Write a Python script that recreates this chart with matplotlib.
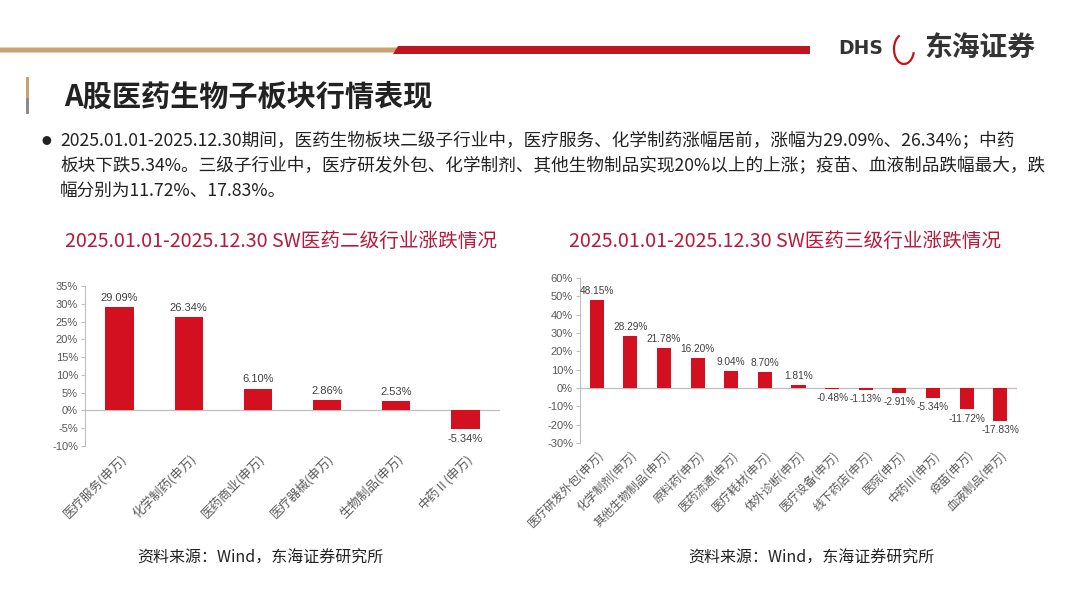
import matplotlib.pyplot as plt
from matplotlib.patches import Polygon, Rectangle, Arc

plt.rcParams['font.family'] = ['Noto Sans CJK SC', 'DejaVu Sans']

# data
lvl2_names = ['医疗服务(申万)', '化学制药(申万)', '医药商业(申万)', '医疗器械(申万)',
              '生物制品(申万)', '中药Ⅱ(申万)']
lvl2_change = [29.09, 26.34, 6.10, 2.86, 2.53, -5.34]
lvl2_ticks = [-10, -5, 0, 5, 10, 15, 20, 25, 30, 35]

lvl3_names = ['医疗研发外包(申万)', '化学制剂(申万)', '其他生物制品(申万)', '原料药(申万)',
              '医药流通(申万)', '医疗耗材(申万)', '体外诊断(申万)', '医疗设备(申万)',
              '线下药店(申万)', '医院(申万)', '中药Ⅲ(申万)', '疫苗(申万)', '血液制品(申万)']
lvl3_change = [48.15, 28.29, 21.78, 16.20, 9.04, 8.70, 1.81, -0.48, -1.13, -2.91,
               -5.34, -11.72, -17.83]
lvl3_ticks = [-30, -20, -10, 0, 10, 20, 30, 40, 50, 60]

bar_red = '#D3101F'
gray = '#595959'
W, H = 1080, 608

fig = plt.figure(figsize=(10.8, 6.08), dpi=100)
fig.patch.set_facecolor('white')


def fx(px):
    return px / W


def fy(py):
    return 1 - py / H


# header bars
fig.patches.append(Polygon([(fx(0), fy(47.5)), (fx(398), fy(47.5)), (fx(395), fy(52.5)), (fx(0), fy(52.5))],
                           closed=True, transform=fig.transFigure, color='#C9A36E', lw=0))
fig.patches.append(Polygon([(fx(398), fy(45.5)), (fx(810), fy(45.5)), (fx(810), fy(53.5)), (fx(393), fy(53.5))],
                           closed=True, transform=fig.transFigure, color='#C0141E', lw=0))
fig.text(fx(838), fy(49), 'DHS', fontsize=13.5, fontweight='bold', color='#333333',
         family=['DejaVu Sans'], va='center', ha='left')
fig.patches.append(Arc((fx(904), fy(49)), fx(20), 30 / H, theta1=100, theta2=330,
                       transform=fig.transFigure, color='#C0141E', lw=1.6))
fig.text(fx(924), fy(49), '东海证券', fontsize=20, fontweight='bold', color='#333333',
         va='center', ha='left')

# title with side marker
fig.patches.append(Rectangle((fx(26), fy(98)), fx(2.5), 21 / H, transform=fig.transFigure,
                             color='#C9A36E', lw=0))
fig.patches.append(Rectangle((fx(26), fy(114)), fx(2.5), 16 / H, transform=fig.transFigure,
                             color='#8C8C8C', lw=0))
fig.text(fx(64), fy(97), 'A股医药生物子板块行情表现', fontsize=21, fontweight='bold',
         color='#222222', va='center', ha='left')

# bullet text
lines = [
    '2025.01.01-2025.12.30期间，医药生物板块二级子行业中，医疗服务、化学制药涨幅居前，涨幅为29.09%、26.34%；中药',
    '板块下跌5.34%。三级子行业中，医疗研发外包、化学制剂、其他生物制品实现20%以上的上涨；疫苗、血液制品跌幅最大，跌',
    '幅分别为11.72%、17.83%。',
]
fig.text(fx(42), fy(141), '●', fontsize=7, color='#222222', va='center', ha='left')
for i, line in enumerate(lines):
    fig.text(fx(60), fy(141 + 25 * i), line, fontsize=12.7, color='#222222', va='center', ha='left')

# chart titles
title_red = '#B8183A'
fig.text(fx(281), fy(241), '2025.01.01-2025.12.30 SW医药二级行业涨跌情况', fontsize=14.1,
         color=title_red, va='center', ha='center')
fig.text(fx(785), fy(241), '2025.01.01-2025.12.30 SW医药三级行业涨跌情况', fontsize=14.1,
         color=title_red, va='center', ha='center')


def draw_panel(ax, names, values, ticks, width, offset, label_size, value_size):
    x = range(len(names))
    ax.bar(x, values, width=width, color=bar_red, zorder=2)
    ax.set_xlim(-0.5, len(names) - 0.5)
    ax.set_ylim(ticks[0], ticks[-1])
    ax.set_yticks(ticks)
    ax.set_yticklabels([f'{t}%' for t in ticks], fontsize=8, color=gray,
                       family=['Liberation Sans', 'DejaVu Sans'])
    ax.set_xticks(list(x))
    ax.set_xticklabels(names, rotation=45, ha='right', rotation_mode='anchor',
                       fontsize=label_size, color=gray)
    ax.tick_params(axis='x', length=0, pad=4)
    ax.tick_params(axis='y', length=3, color='#BFBFBF', pad=2)
    for s in ['top', 'right', 'bottom']:
        ax.spines[s].set_visible(False)
    ax.spines['left'].set_color('#BFBFBF')
    ax.axhline(0, color='#BFBFBF', lw=0.9, zorder=1)
    for i, v in enumerate(values):
        if v >= 0:
            ax.text(i, v + offset, f'{v:.2f}%', ha='center', va='bottom', fontsize=value_size,
                    color='#404040', family=['Liberation Sans', 'DejaVu Sans'])
        else:
            ax.text(i, v - offset, f'{v:.2f}%', ha='center', va='top', fontsize=value_size,
                    color='#404040', family=['Liberation Sans', 'DejaVu Sans'])


ax1 = fig.add_axes([fx(85), fy(446), fx(500 - 85), (446 - 286) / H])
draw_panel(ax1, lvl2_names, lvl2_change, lvl2_ticks, 0.41, 1.2, 9, 8)

ax2 = fig.add_axes([fx(580), fy(443), fx(1017 - 580), (443 - 278) / H])
draw_panel(ax2, lvl3_names, lvl3_change, lvl3_ticks, 0.42, 2.2, 8.5, 7.3)

# sources
fig.text(fx(137), fy(558), '资料来源：Wind，东海证券研究所', fontsize=11.5, color='#222222',
         va='center', ha='left')
fig.text(fx(688), fy(558), '资料来源：Wind，东海证券研究所', fontsize=11.5, color='#222222',
         va='center', ha='left')

fig.savefig('out.png', dpi=100, facecolor='white')
